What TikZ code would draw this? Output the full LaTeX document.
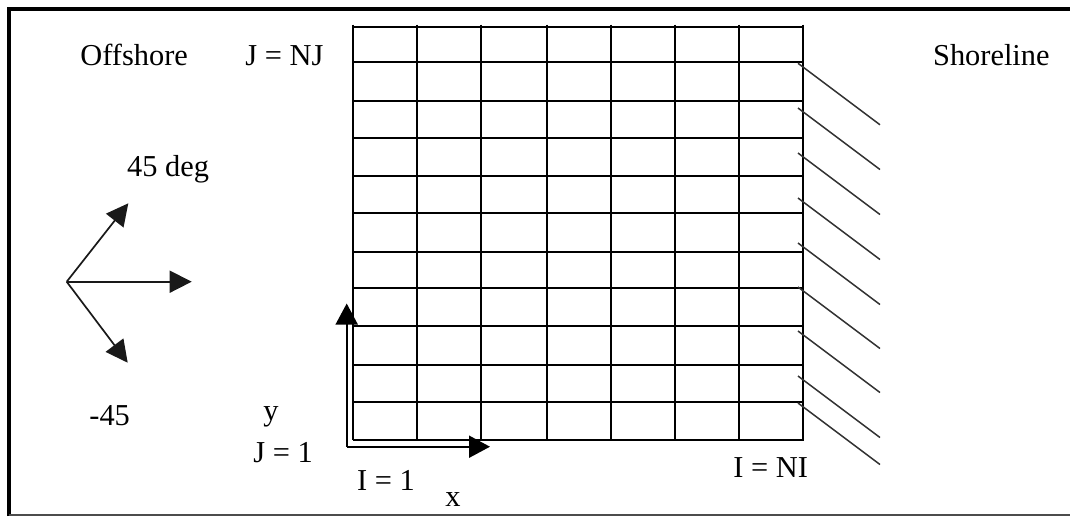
\documentclass[tikz,border=0pt]{standalone}
\usepackage{fontspec}
\setmainfont{Liberation Serif}
\usetikzlibrary{arrows.meta}
\begin{document}
\begin{tikzpicture}[x=0.5pt,y=-0.5pt,
  lbl/.style={anchor=base west,inner sep=0pt,font=\fontsize{15.2}{18}\selectfont},
  gridline/.style={line width=1pt,black},
  hatch/.style={line width=0.75pt,black!80},
  vec/.style={line width=0.85pt,black!90,-{Triangle[length=11pt,width=11pt]}},
  axis/.style={line width=1pt,black,-{Triangle[length=10.5pt,width=11pt]}}]
\useasboundingbox (0,0) rectangle (1070,516);
% frame
\draw[line width=2.2pt] (9,516) -- (9,9) -- (1072,9);
\draw[line width=0.8pt,black!70] (9,515) -- (1072,515);
% grid
\foreach \x in {353,417,481,547,611,675,739,803}
  \draw[gridline] (\x,24.5) -- (\x,440);
\foreach \y in {26.7,62.3,101,137.7,175.7,213.3,251.7,288.3,326.3,365,401.7,440}
  \draw[gridline] (352.5,\y) -- (803.5,\y);
% shoreline hatch
\foreach \y in {63.3,108,153,198,243,287,331,376,403}
  \draw[hatch] (798,\y) -- (880,\y+61.5);
% direction vectors
\coordinate (o) at (66.7,281.7);
\coordinate (p45) at (128.3,203.3);
\coordinate (p0) at (191.7,281.7);
\coordinate (m45) at (127.7,362.7);
\draw[vec] (o) -- (p45);
\draw[vec] (o) -- (p0);
\draw[vec] (o) -- (m45);
% axes
\coordinate (ax0) at (346.7,446.7);
\coordinate (ay) at (346.7,303.5);
\coordinate (axx) at (490,446.7);
\draw[axis] (ax0) -- (ay);
\draw[axis] (ax0) -- (axx);
% labels
\node[lbl] (offshore) at (80,65.5) {Offshore};
\node[lbl] (jnj) at (245,65.5) {J = NJ};
\node[lbl] (shore) at (932.7,65.5) {Shoreline};
\node[lbl] (deg) at (126.7,176) {45 deg};
\node[lbl] (m45l) at (89,425) {-45};
\node[lbl] (ylbl) at (263,420) {y};
\node[lbl] (j1) at (253,462.7) {J = 1};
\node[lbl] (i1) at (356.7,490) {I = 1};
\node[lbl] (xlbl) at (445,506.7) {x};
\node[lbl] (ini) at (733,477.3) {I = NI};
\end{tikzpicture}
\end{document}
